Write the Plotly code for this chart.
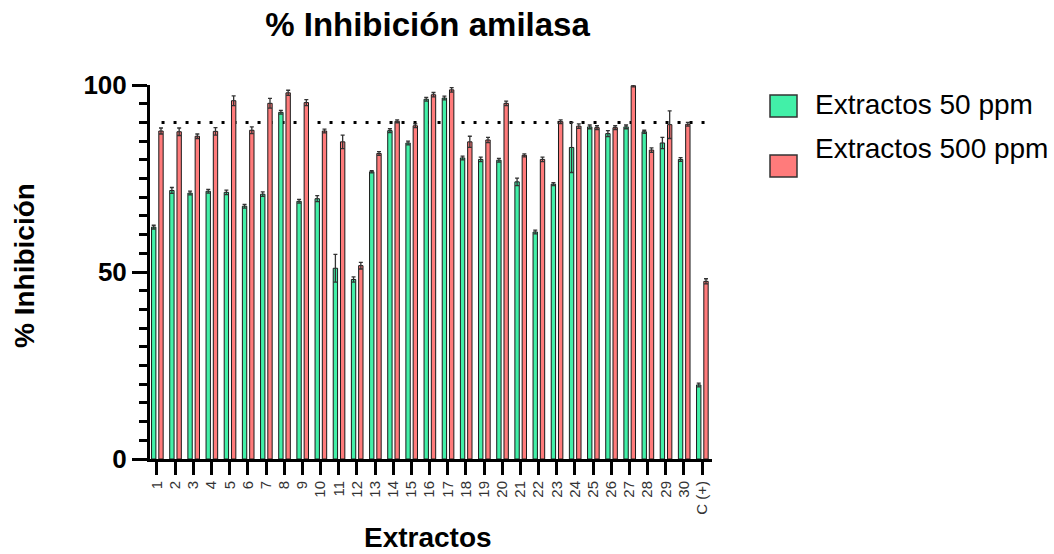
import plotly.graph_objects as go

labels = [str(i) for i in range(1, 31)] + ["C (+)"]
ext50 = [62.0, 71.8, 71.1, 71.6, 71.3, 67.6, 70.8, 92.7, 68.9, 69.6, 51.0, 48.0, 76.8, 87.8, 84.5,
         96.2, 96.5, 80.5, 80.1, 79.9, 74.1, 60.7, 73.5, 83.3, 88.8, 87.0, 88.8, 87.5, 84.5, 80.1, 19.8]
ext500 = [87.7, 87.5, 86.3, 87.6, 95.8, 87.9, 95.1, 97.9, 95.3, 87.7, 84.8, 51.7, 81.7, 90.3, 89.1,
          97.4, 98.7, 84.8, 85.3, 95.1, 81.2, 80.1, 90.2, 89.0, 88.6, 88.6, 99.8, 82.6, 89.4, 89.5, 47.5]
err50 = [0.5, 0.8, 0.5, 0.5, 0.6, 0.5, 0.6, 0.5, 0.5, 0.8, 3.7, 0.7, 0.3, 0.5, 0.5, 0.5,
         0.5, 0.5, 0.6, 0.5, 1.0, 0.5, 0.4, 6.7, 0.5, 0.8, 0.5, 0.4, 1.5, 0.5, 0.5]
err500 = [0.8, 1.0, 0.6, 1.0, 1.3, 0.9, 1.3, 0.7, 0.8, 0.5, 1.8, 0.9, 0.5, 0.4, 0.5, 0.6,
          0.6, 1.5, 0.7, 0.6, 0.4, 0.6, 0.5, 0.6, 0.5, 0.5, 0.3, 0.6, 3.7, 0.5, 0.7]
threshold = 90
series_names = ["Extractos 50 ppm", "Extractos 500 ppm"]
colors = ["#42F0A8", "#FF7B7B"]

x = list(range(len(labels)))
FONT = "Liberation Sans, Arial, sans-serif"

fig = go.Figure()
for vals, errs, col, off in [(ext50, err50, colors[0], -0.30), (ext500, err500, colors[1], 0.10)]:
    fig.add_trace(go.Bar(
        x=x, y=vals, width=0.24, offset=off,
        marker=dict(color=col, line=dict(color="#1a1a1a", width=1)),
        error_y=dict(type="data", array=errs, visible=True, color="#333333", thickness=1.3, width=2),
        showlegend=False,
    ))

# plot area in pixels
L, R, T, B = 150, 342, 85, 95
W, H = 1054, 554
pw, ph = W - L - R, H - T - B


def px(xp):
    return (xp - L) / pw


def py(yp):
    return (H - B - yp) / ph


shapes = [dict(type="line", xref="x", yref="y", x0=0.25, x1=30.25, y0=threshold, y1=threshold,
               line=dict(color="black", width=3, dash="3px,9px"), layer="below")]
annotations = [
    dict(text="Extractos", xref="paper", yref="paper", x=px(428), y=py(537), showarrow=False,
         xanchor="center", yanchor="middle", font=dict(family=FONT, size=28, color="black", weight="bold")),
    dict(text="% Inhibición", xref="paper", yref="paper", x=px(24), y=py(266), showarrow=False,
         textangle=-90, xanchor="center", yanchor="middle",
         font=dict(family=FONT, size=28, color="black", weight="bold")),
]
legend_rows = [(95, 117, 104), (155, 177, 148)]
for (y0, y1, ty), name, col in zip(legend_rows, series_names, colors):
    shapes.append(dict(type="rect", xref="paper", yref="paper", x0=px(770), x1=px(797),
                       y0=py(y1), y1=py(y0), fillcolor=col, line=dict(color="#333333", width=1.5)))
    annotations.append(dict(text=name, xref="paper", yref="paper", x=px(813), y=py(ty), showarrow=False,
                            xanchor="left", yanchor="middle",
                            font=dict(family=FONT, size=28, color="black")))

fig.update_layout(
    width=W, height=H,
    margin=dict(l=L, r=R, t=T, b=B, autoexpand=False),
    plot_bgcolor="white", paper_bgcolor="white",
    barmode="overlay",
    title=dict(text="% Inhibición amilasa", x=427.5 / W, xanchor="center", y=1 - 24.5 / H, yanchor="middle",
               font=dict(family=FONT, size=33, color="black", weight="bold")),
    xaxis=dict(range=[-0.385, 30.55], tickmode="array", tickvals=x, ticktext=labels,
               tickangle=-90, showgrid=False, zeroline=False, showline=True, linecolor="black", linewidth=3,
               ticks="outside", ticklen=13, tickwidth=3, tickcolor="black",
               tickfont=dict(family=FONT, size=15, color="#333333")),
    yaxis=dict(range=[0, 100], tickvals=[0, 50, 100], showgrid=False, zeroline=False,
               showline=True, linecolor="black", linewidth=3,
               ticks="outside", ticklen=15, tickwidth=3, tickcolor="black",
               minor=dict(dtick=5, ticks="outside", ticklen=8, tickwidth=3, tickcolor="black", showgrid=False),
               tickfont=dict(family=FONT, size=26, color="black", weight="bold")),
    shapes=shapes, annotations=annotations,
)

fig.write_html("out.html")
